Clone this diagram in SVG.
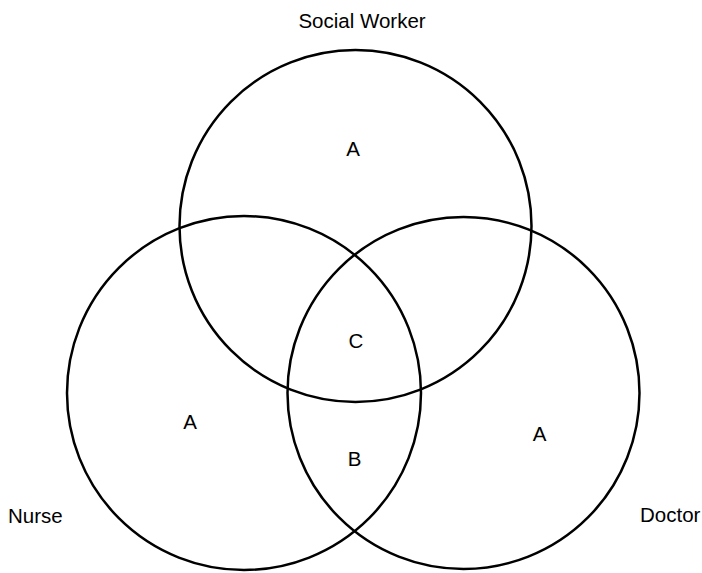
<svg xmlns="http://www.w3.org/2000/svg" width="702" height="573" viewBox="0 0 702 573">
<style>
.c{fill:none;stroke:#000;stroke-width:2.5}
.t{font-family:"Liberation Sans",Arial,sans-serif;font-size:20.5px;fill:#000}
.m{text-anchor:middle}
</style>
<rect width="702" height="573" fill="#fff"/>
<g id="social-worker">
<circle class="c" cx="355.5" cy="226" r="176"/>
<text class="t m" x="362" y="28">Social Worker</text>
<text class="t m" x="353" y="156">A</text>
</g>
<g id="nurse">
<circle class="c" cx="244" cy="393" r="177"/>
<text class="t" x="8" y="523">Nurse</text>
<text class="t m" x="190" y="429">A</text>
</g>
<g id="doctor">
<circle class="c" cx="463.5" cy="393" r="176"/>
<text class="t" x="640" y="522">Doctor</text>
<text class="t m" x="539.5" y="440.5">A</text>
</g>
<g id="overlaps">
<text class="t m" x="356" y="348">C</text>
<text class="t m" x="354.5" y="466">B</text>
</g>
<g id="connectors"></g>
</svg>
